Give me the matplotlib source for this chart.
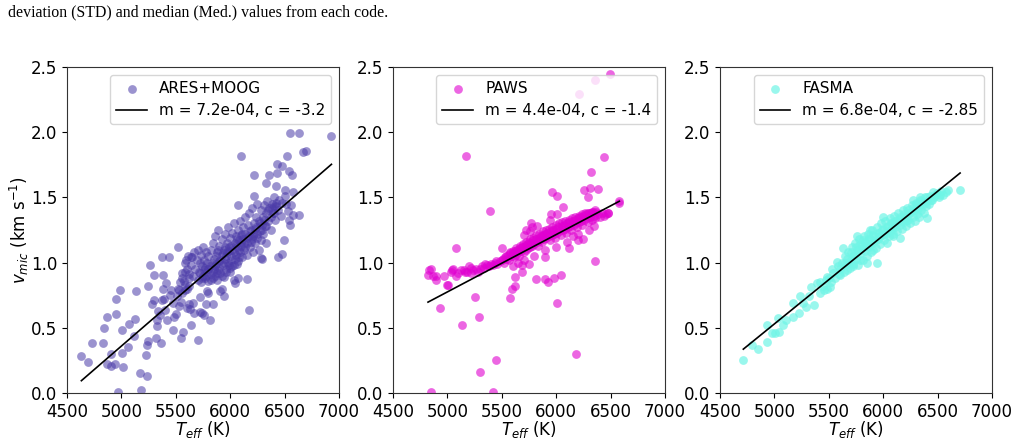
import numpy as np
import matplotlib.pyplot as plt

# ---- data: (Teff, vmic) per code ----
ares_teff = [
    4632, 4690, 4730, 4827, 4837, 4864, 4870, 4900, 4907, 4944, 4953, 4953, 4965, 4987, 5002,
    5011, 5008, 5063, 5066, 5112, 5133, 5127, 5167, 5176, 5225, 5231, 5237, 5246, 5246, 5262,
    5277, 5295, 5301, 5317, 5323, 5326, 5338, 5354, 5363, 5372, 5378, 5384, 5375, 5393, 5400,
    5409, 5418, 5433, 5449, 5455, 5470, 5476, 5479, 5501, 5510, 5516, 5525, 5531, 5543, 5543,
    5556, 5562, 5571, 5580, 5586, 5589, 5602, 5617, 5623, 5632, 5641, 5641, 5657, 5663, 5703,
    5724, 5724, 5745, 5755, 5776, 5785, 5800, 5816, 5846, 5908, 5923, 5941, 6000, 6030, 6045,
    6073, 6155, 6168, 6070, 6103, 6217, 6217, 6278, 6293, 6327, 6360, 6403, 6428, 6430, 6425,
    6437, 6477, 6474, 6495, 6501, 6505, 6514, 6517, 6538, 6544, 6547, 6550, 6559, 6568, 6574,
    6580, 6630, 6636, 6670, 6697, 6930, 6531,
    5520, 5540, 5560, 5580, 5600, 5620,
    5560, 5580, 5600, 5610, 5620, 5640, 5650, 5660, 5670, 5680, 5690, 5700, 5700, 5710, 5720,
    5730, 5730, 5740, 5750, 5750, 5760, 5770, 5770, 5780, 5790, 5790, 5800, 5800, 5810, 5820,
    5820, 5830, 5840, 5840, 5850, 5850, 5860, 5860, 5870, 5880, 5880, 5890, 5890, 5900, 5900,
    5910, 5920, 5920, 5930, 5940, 5940, 5950, 5950, 5960, 5970, 5970, 5980, 5980, 5990, 6000,
    6000, 6010, 6020, 6020, 6030, 6030, 6040, 6050, 6050, 6060, 6070, 6070, 6080, 6090, 6090,
    6100, 6100, 6110, 6120, 6120, 6130, 6140, 6140, 6150, 6150, 6160, 6170, 6170, 6180, 6190,
    6200, 6200, 6210, 6220, 6220, 6230, 6240, 6240, 6250, 6250, 6260, 6260, 6270, 6280, 6280,
    6290, 6300, 6300, 6310, 6320, 6330, 6330, 6340, 6350, 6360, 6370, 6380, 6390, 6400, 6410,
    6420, 6440, 6450, 6470, 6480,
    5720, 5740, 5760, 5780, 5800, 5820, 5840, 5860, 5880, 5900, 5920, 5940, 5960, 5990, 6010,
    6030, 6050, 6060, 6080, 6100, 6110, 6130, 6140, 6160, 6180, 6190, 6210, 6230, 6250, 6270,
    6290, 6310, 6330, 6350, 6370, 6380, 6400, 6420, 5870, 5890, 5910, 5930, 5950, 5965, 5985,
    6005, 6020, 6040, 6060, 6080,
]
ares_vmic = [
    0.28, 0.24, 0.38, 0.38, 0.50, 0.585, 0.22, 0.30, 0.21, 0.225, 0.605, 0.72, 0.01, 0.79, 0.485,
    0.197, 0.31, 0.35, 0.53, 0.44, 0.78, 0.57, 0.15, 0.02, 0.29, 0.13, 0.365, 0.40, 0.82, 0.985,
    0.68, 0.71, 0.905, 0.42, 0.51, 0.56, 0.63, 0.60, 0.38, 0.71, 0.795, 0.905, 1.045, 0.72, 0.64,
    0.84, 0.56, 1.045, 0.75, 0.79, 0.69, 0.485, 0.58, 0.605, 0.74, 1.12, 0.67, 0.79, 0.70, 0.42,
    0.88, 0.47, 0.86, 0.93, 0.79, 1.02, 0.65, 0.915, 0.685, 0.645, 1.045, 0.525, 0.69, 0.61, 0.41,
    0.62, 0.735, 0.61, 0.60, 0.68, 0.78, 0.77, 0.56, 0.68, 0.78, 0.80, 0.74, 0.96, 0.865, 0.84,
    0.88, 0.875, 0.64, 1.445, 1.82, 1.675, 1.51, 1.035, 1.03, 1.61, 1.67, 1.43, 1.755, 1.69, 1.585,
    1.04, 1.065, 1.74, 1.175, 1.555, 1.51, 1.45, 1.815, 1.33, 1.70, 1.29, 1.995, 1.44, 1.67, 1.545,
    1.365, 1.365, 1.995, 1.85, 1.855, 1.97, 1.395,
    0.80, 0.85, 0.77, 0.83, 0.80, 0.82,
    0.92, 1.00, 0.95, 1.05, 0.88, 0.98, 1.04, 0.90, 1.08, 0.95, 1.02, 0.87, 1.10, 0.93, 1.00,
    0.85, 1.06, 0.97, 0.90, 1.12, 1.02, 0.88, 0.96, 1.08, 0.93, 1.00, 0.86, 1.05, 0.97, 0.91,
    1.10, 1.00, 0.88, 1.15, 0.95, 1.03, 0.90, 1.20, 0.99, 0.87, 1.08, 0.94, 1.25, 1.01, 1.13,
    0.92, 1.06, 1.18, 0.98, 1.10, 0.89, 1.22, 1.03, 0.95, 1.15, 1.08, 1.00, 1.27, 1.12, 0.93,
    1.19, 1.05, 1.23, 1.10, 0.98, 1.30, 1.15, 1.06, 1.20, 1.12, 1.25, 1.01, 1.17, 1.08, 1.32,
    1.21, 1.13, 1.04, 1.27, 1.18, 1.10, 1.35, 1.22, 1.15, 1.06, 1.29, 1.20, 1.38, 1.12, 1.25,
    1.18, 1.42, 1.08, 1.30, 1.22, 1.15, 1.35, 1.27, 1.19, 1.45, 1.10, 1.32, 1.24, 1.40, 1.17,
    1.29, 1.35, 1.22, 1.44, 1.28, 1.15, 1.38, 1.47, 1.32, 1.42, 1.25, 1.45, 1.38, 1.50, 1.33,
    1.43, 1.40, 1.48, 1.36, 1.46,
    0.92, 0.88, 0.94, 0.90, 0.95, 0.87, 0.93, 0.97, 0.92, 0.96, 0.90, 1.00, 0.93, 0.98, 1.13,
    1.08, 1.14, 1.18, 1.10, 1.16, 1.22, 1.15, 1.12, 1.19, 1.24, 1.16, 1.20, 1.26, 1.22, 1.30,
    1.25, 1.33, 1.28, 1.40, 1.35, 1.42, 1.38, 1.46, 1.05, 1.10, 1.02, 1.07, 1.12, 1.05, 1.09,
    1.02, 0.97, 1.03, 0.99, 1.04,
]

paws_teff = [
    4822, 4828, 4871, 4893, 4936, 4966, 4994, 5006, 5046, 5077, 5080, 5132, 5129, 5175, 5166,
    5215, 5255, 5294, 5298, 5396, 5445, 5423, 4847, 5506, 5574, 5592, 5620, 5617, 5684, 5687,
    5767, 5779, 5810, 5893, 5896, 5929, 5942, 5948, 5963, 5979, 6003, 6003, 6009, 6040, 6061,
    6120, 6181, 6202, 6251, 6294, 6316, 6310, 6353, 6383, 6442, 6577, 6478, 6494, 6356, 6212,
    4850, 4900, 5030, 5050, 5100, 5150, 5180, 5200, 5220, 5240, 5260, 5280,
    5300, 5320, 5340, 5360, 5380, 5400, 5420, 5440, 5460, 5480, 5500, 5520, 5530, 5550, 5560,
    5570, 5580, 5590, 5600, 5610, 5620, 5630, 5640, 5650, 5660, 5670, 5680, 5690, 5700, 5710,
    5720, 5730, 5740, 5750, 5760, 5770, 5780, 5790, 5800, 5810, 5820, 5830, 5840, 5850, 5860,
    5870, 5880, 5890, 5900, 5910, 5920, 5930, 5940, 5950, 5960, 5970, 5980, 5990, 6000, 6010,
    6020, 6030, 6040, 6050, 6060, 6070, 6080, 6090, 6100, 6110, 6120, 6130, 6140, 6150, 6160,
    6170, 6180, 6190, 6200, 6210, 6220, 6230, 6240, 6250, 6260, 6270, 6280, 6290, 6300, 6310,
    6320, 6330, 6340, 6350, 6360, 6370, 6380, 6400, 6420, 6440, 6460, 6480,
    5600, 5650, 5700, 5750, 5800, 5900, 6000, 6100, 6150, 6200, 6250, 6300, 6350, 5700, 5720,
    5760, 5820, 6580,
    5350, 5450, 5510, 5540, 5575, 5605, 5635, 5665, 5695, 5725, 5755, 5785, 5815, 5845, 5875,
    5905, 5935, 5965, 5995, 6025, 6055, 6085, 6115, 6145, 6175, 6205, 6235, 6265, 6295, 6325,
    6355,
]
paws_vmic = [
    0.907, 0.946, 0.90, 0.864, 0.65, 0.895, 0.83, 0.826, 0.946, 0.895, 1.115, 0.524, 0.94, 1.815, 0.93,
    0.96, 0.736, 0.585, 0.158, 1.396, 0.256, 0.008, 0.008, 1.11, 0.729, 0.80, 0.823, 0.89, 0.928, 0.98,
    1.30, 1.27, 0.877, 0.877, 1.046, 0.852, 1.325, 1.37, 1.54, 0.882, 1.51, 0.688, 1.375, 0.907, 1.424,
    1.112, 0.30, 1.176, 1.557, 1.50, 1.693, 1.575, 1.015, 1.567, 1.807, 1.457, 1.378, 2.447, 2.40, 2.296,
    0.95, 0.90, 0.93, 0.95, 0.92, 0.94, 0.93, 0.97, 0.92, 0.94, 0.95, 0.93,
    0.95, 0.97, 0.96, 0.98, 0.97, 0.99, 0.98, 1.00, 0.99, 1.01, 1.02, 1.00, 1.04, 1.03, 1.06,
    1.02, 1.08, 1.05, 1.07, 1.04, 1.09, 1.06, 1.10, 1.08, 1.05, 1.11, 1.09, 1.12, 1.08, 1.13,
    1.10, 1.14, 1.11, 1.16, 1.12, 1.15, 1.13, 1.17, 1.14, 1.18, 1.16, 1.13, 1.19, 1.17, 1.20,
    1.16, 1.21, 1.18, 1.22, 1.19, 1.23, 1.20, 1.17, 1.24, 1.21, 1.25, 1.22, 1.19, 1.26, 1.23,
    1.27, 1.24, 1.21, 1.28, 1.25, 1.29, 1.26, 1.23, 1.30, 1.27, 1.31, 1.28, 1.25, 1.32, 1.29,
    1.33, 1.30, 1.27, 1.34, 1.31, 1.35, 1.32, 1.29, 1.36, 1.33, 1.37, 1.34, 1.31, 1.38, 1.35,
    1.38, 1.33, 1.39, 1.36, 1.34, 1.39, 1.37, 1.35, 1.38, 1.36, 1.37, 1.38,
    0.97, 1.00, 1.02, 0.99, 1.05, 1.10, 1.12, 1.16, 1.20, 1.22, 1.18, 1.25, 1.28, 1.21, 1.25,
    1.24, 1.28, 1.47,
    0.99, 1.01, 1.03, 1.05, 1.07, 1.09, 1.11, 1.13, 1.14, 1.16, 1.18, 1.19, 1.21, 1.22, 1.24,
    1.25, 1.26, 1.27, 1.29, 1.30, 1.31, 1.32, 1.33, 1.34, 1.35, 1.36, 1.37, 1.38, 1.38, 1.39,
    1.40,
]

fasma_teff = [
    4714, 4791, 4852, 4929, 4929, 4975, 5006, 5042, 5036, 5082, 5107, 5168, 5174, 5229, 5235,
    5260, 5290, 5321, 5333, 5367, 5389, 5419, 5456, 5474, 5487, 5511, 5572, 5603, 5634, 5664,
    5695, 5726, 5756, 5787, 5818, 5848, 5879, 5910, 5940, 6001, 6032, 6093, 6155, 6216, 6277,
    6338, 6400, 6461, 6522, 6599, 6706,
    5420, 5450, 5480, 5500, 5520, 5540, 5560, 5580, 5530, 5590,
    5600, 5620, 5640, 5650, 5660, 5680, 5690, 5700, 5710, 5720, 5730, 5740, 5750, 5760, 5770,
    5780, 5790, 5800, 5810, 5820, 5830, 5840, 5850, 5860, 5870, 5880, 5890, 5900, 5910, 5920,
    5930, 5940, 5950, 5960, 5970, 5980, 5990, 6000, 6010, 6020, 6030, 6040, 6050, 6060, 6070,
    6080, 6090, 6100, 6110, 6120, 6130, 6140, 6150, 6160, 6170, 6180, 6190, 6200, 6210, 6220,
    6230, 6240, 6250, 6260, 6270, 6280, 6290, 6300, 6310, 6320, 6330, 6340, 6350, 6360, 6370,
    6380, 6390, 6400, 6420, 6430, 6450, 6470, 6490, 6510, 6530, 6550, 6580,
    5650, 5670, 5700, 5720, 5750, 5770, 5790, 5810, 5830, 5850, 5870, 5890, 5910, 5930, 5950,
    5970, 5990, 6010, 6030, 6050, 6070, 6090, 6110, 6130, 6150, 6170, 6190, 6210, 6230, 6250,
    6270, 6290, 6310, 6330, 6350, 6370, 6400, 6440, 6480,
]
fasma_vmic = [
    0.253, 0.368, 0.34, 0.393, 0.52, 0.457, 0.462, 0.47, 0.573, 0.52, 0.559, 0.585, 0.688, 0.611, 0.74,
    0.688, 0.66, 0.74, 0.815, 0.675, 0.84, 0.765, 0.79, 0.87, 0.89, 0.815, 1.007, 0.905, 1.11, 0.94,
    0.995, 0.97, 1.20, 1.02, 1.17, 0.995, 1.25, 1.097, 0.995, 1.35, 1.148, 1.20, 1.186, 1.327, 1.48,
    1.505, 1.34, 1.545, 1.52, 1.557, 1.553,
    0.85, 0.82, 0.80, 0.88, 0.85, 0.92, 0.88, 0.97, 0.95, 0.91,
    0.95, 1.00, 0.93, 1.05, 0.98, 1.08, 0.96, 1.02, 1.12, 0.99, 1.06, 1.15, 1.03, 1.10, 0.98,
    1.18, 1.07, 1.13, 1.02, 1.20, 1.09, 1.15, 1.05, 1.22, 1.12, 1.18, 1.08, 1.25, 1.15, 1.20,
    1.11, 1.27, 1.18, 1.23, 1.14, 1.30, 1.21, 1.26, 1.17, 1.32, 1.23, 1.28, 1.20, 1.34, 1.25,
    1.30, 1.22, 1.36, 1.27, 1.32, 1.24, 1.38, 1.29, 1.34, 1.26, 1.40, 1.31, 1.36, 1.28, 1.42,
    1.33, 1.38, 1.30, 1.44, 1.35, 1.40, 1.32, 1.46, 1.37, 1.42, 1.35, 1.48, 1.40, 1.45, 1.38,
    1.50, 1.43, 1.47, 1.45, 1.51, 1.48, 1.50, 1.53, 1.50, 1.55, 1.52, 1.54,
    1.00, 1.03, 1.08, 1.05, 1.12, 1.09, 1.14, 1.11, 1.16, 1.13, 1.19, 1.15, 1.21, 1.17, 1.23,
    1.20, 1.25, 1.22, 1.27, 1.24, 1.30, 1.27, 1.32, 1.30, 1.35, 1.32, 1.37, 1.35, 1.40, 1.38,
    1.42, 1.40, 1.45, 1.43, 1.47, 1.45, 1.50, 1.48, 1.52,
]

# linear fits (slope, intercept) as drawn; legend shows rounded values
codes = ["ARES+MOOG", "PAWS", "FASMA"]
fit_m = [7.22e-4, 4.4e-4, 6.78e-4]
fit_c = [-3.25, -1.425, -2.86]
fit_labels = ["m = 7.2e-04, c = -3.2", "m = 4.4e-04, c = -1.4", "m = 6.8e-04, c = -2.85"]
colors = ["#4a3aa8", "#e000d0", "#6ff5e6"]
alphas = [0.55, 0.6, 0.7]

teffs = [ares_teff, paws_teff, fasma_teff]
vmics = [ares_vmic, paws_vmic, fasma_vmic]

fig = plt.figure(figsize=(10.17, 4.42), dpi=100)
fig.text(0.008, 0.971, "deviation (STD) and median (Med.) values from each code.",
         family="Liberation Serif", fontsize=11.4, va="center", ha="left")

lefts = [0.0659, 0.3864, 0.708]
for i in range(3):
    ax = fig.add_axes([lefts[i], 0.1109, 0.2675, 0.7376])
    t = np.array(teffs[i])
    v = np.array(vmics[i])
    ax.scatter(t, v, s=40, color=colors[i], alpha=alphas[i], linewidths=0, label=codes[i])
    xx = np.array([t.min(), t.max()])
    ax.plot(xx, fit_m[i] * xx + fit_c[i], color="black", lw=1.2, label=fit_labels[i])
    ax.set_xlim(4500, 7000)
    ax.set_ylim(0, 2.5)
    ax.set_xticks(np.arange(4500, 7001, 500))
    ax.set_yticks(np.arange(0, 2.51, 0.5))
    ax.tick_params(labelsize=12)
    for sp in ax.spines.values():
        sp.set_color("#333333")
    ax.set_xlabel("$T_{eff}$ (K)", fontsize=12, labelpad=-1)
    if i == 0:
        ax.set_ylabel("$v_{mic}$ (km s$^{-1}$)", fontsize=12, labelpad=0)
    ax.legend(loc="upper right", fontsize=11)

fig.savefig("out.png", dpi=100)
